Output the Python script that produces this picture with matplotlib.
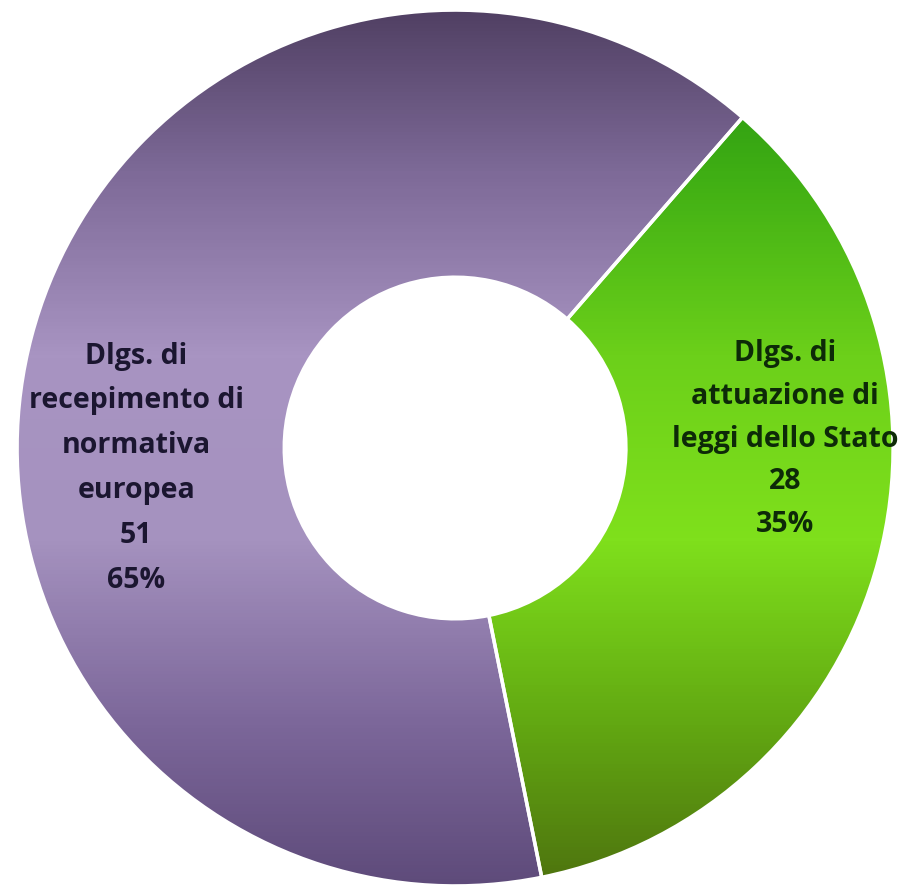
import matplotlib.pyplot as plt
import numpy as np
from matplotlib.colors import LinearSegmentedColormap

# data
categories = ["Dlgs. di\nattuazione di\nleggi dello Stato",
              "Dlgs. di\nrecepimento di\nnormativa\neuropea"]
values = [28, 51]
text_colors = ["#0d2a08", "#1b1630"]
label_pos = [(0.753, 0.02), (-0.728, -0.046)]
label_spacing = [1.62, 1.72]

# vertical gradients (bottom -> top) for each slice
green_stops = ["#4b6c0e", "#62a812", "#7fe01c", "#6cd01a", "#3fae14", "#1a8a10"]
purple_stops = ["#5a4776", "#7c679a", "#a592bf", "#a894c2", "#7e6a98", "#4a3a5c"]

fig = plt.figure(figsize=(9.08, 8.89), dpi=100)
ax = fig.add_axes([0, 0, 1, 1])

wedges, _ = ax.pie(values, startangle=49, counterclock=False, radius=1.0,
                   wedgeprops=dict(width=0.61, edgecolor="white", linewidth=2.5),
                   colors=["#6cc81a", "#8a76a8"])

grad = np.linspace(0, 1, 256).reshape(-1, 1)
for w, stops in zip(wedges, [green_stops, purple_stops]):
    cmap = LinearSegmentedColormap.from_list("g", stops)
    im = ax.imshow(grad, cmap=cmap, extent=[-1.05, 1.05, -1.05, 1.05],
                   origin="lower", aspect="auto", zorder=1)
    im.set_clip_path(w)
    w.set_facecolor("none")
    w.set_zorder(2)

total = sum(values)
for name, v, (x, y), c, ls in zip(categories, values, label_pos, text_colors, label_spacing):
    ax.text(x, y, f"{name}\n{v}\n{round(v / total * 100)}%", ha="center",
            va="center", fontsize=20.5, fontweight="bold", color=c,
            family="Open Sans", linespacing=ls, zorder=3)

ax.set_xlim(-1.039, 1.034)
ax.set_ylim(-1.007, 1.023)
ax.set_aspect("auto")
ax.axis("off")

fig.savefig("out.png", dpi=100)
